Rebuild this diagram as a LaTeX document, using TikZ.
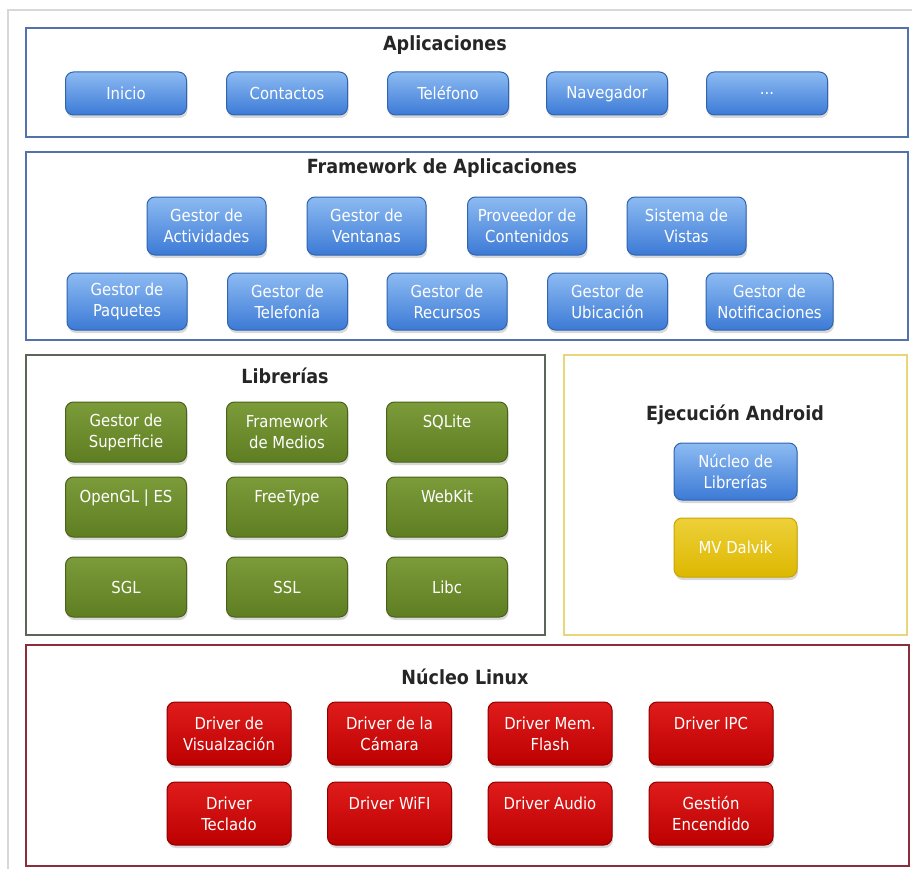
\documentclass[tikz,border=0pt]{standalone}
\usepackage{fontspec}
\newfontfamily\boxfont{DejaVu Sans Condensed}
\usetikzlibrary{shadows}

\definecolor{bluetop}{HTML}{8DBBF2}
\definecolor{bluebot}{HTML}{3C7AD6}
\definecolor{blueedge}{HTML}{2E64B0}
\definecolor{greentop}{HTML}{7C9B3A}
\definecolor{greenbot}{HTML}{5E7E22}
\definecolor{greenedge}{HTML}{4A6218}
\definecolor{yellowtop}{HTML}{EDD03A}
\definecolor{yellowbot}{HTML}{DDB800}
\definecolor{yellowedge}{HTML}{C9A500}
\definecolor{redtop}{HTML}{E01C1C}
\definecolor{redbot}{HTML}{BC0000}
\definecolor{rededge}{HTML}{8E0000}
\definecolor{appsedge}{HTML}{5272AC}
\definecolor{libsedge}{HTML}{5C6658}
\definecolor{runedge}{HTML}{EAD67A}
\definecolor{linuxedge}{HTML}{8C2D3C}
\definecolor{framegrey}{HTML}{D8D8D8}

\begin{document}
\begin{tikzpicture}[x=1pt, y=-1pt,
    panel/.style={line width=2pt, fill=white},
    heading/.style={font=\boxfont\bfseries\fontsize{19.5}{22}\selectfont, text=black!85},
    box/.style={rounded corners=8pt, draw, line width=1pt, text=white, align=center,
      inner sep=2pt, font=\boxfont\fontsize{16.5}{21}\selectfont,
      drop shadow={opacity=0.3, shadow xshift=1pt, shadow yshift=-3pt}},
    bluebox/.style={box, draw=blueedge, top color=bluetop, bottom color=bluebot},
    greenbox/.style={box, draw=greenedge, top color=greentop, bottom color=greenbot,
      minimum width=121pt, minimum height=60pt},
    redbox/.style={box, draw=rededge, top color=redtop, bottom color=redbot,
      minimum width=124pt, minimum height=63pt},
    yellowbox/.style={box, draw=yellowedge, top color=yellowtop, bottom color=yellowbot}]
  \useasboundingbox (0,0) rectangle (912,869);
  \draw [framegrey, line width=2pt] (8,869) -- (8,10) -- (912,10);

  % panels
  \draw [panel, draw=appsedge] (26,28) rectangle (908,137);
  \draw [panel, draw=appsedge] (26,152) rectangle (908,340);
  \draw [panel, draw=libsedge] (26,355) rectangle (545,635);
  \draw [panel, draw=runedge] (564,355) rectangle (907,635);
  \draw [panel, draw=linuxedge, line width=2.5pt] (26,645) rectangle (909,866);

  % Aplicaciones
  \node [heading] (tapps) at (445,45) {Aplicaciones};
  \node [bluebox, minimum width=121pt, minimum height=43pt] (inicio) at (126,93.5) {Inicio};
  \node [bluebox, minimum width=121pt, minimum height=43pt] (contactos) at (287,93.5) {Contactos};
  \node [bluebox, minimum width=121pt, minimum height=43pt] (telefono) at (448,93.5) {Teléfono};
  \node [bluebox, minimum width=121pt, minimum height=43pt] (navegador) at (607,93.5) {Navegador};
  \node [bluebox, minimum width=121pt, minimum height=43pt] (otras) at (767,93.5) {...};

  % Framework de Aplicaciones
  \node [heading] (tframe) at (442,168) {Framework de Aplicaciones};
  \node [bluebox, minimum width=119pt, minimum height=58pt] (gact) at (206.5,226) {Gestor de\\Actividades};
  \node [bluebox, minimum width=119pt, minimum height=58pt] (gvent) at (366.5,226) {Gestor de\\Ventanas};
  \node [bluebox, minimum width=119pt, minimum height=58pt] (provc) at (527,226) {Proveedor de\\Contenidos};
  \node [bluebox, minimum width=119pt, minimum height=58pt] (sisv) at (686.5,226) {Sistema de\\Vistas};
  \node [bluebox, minimum width=120pt, minimum height=57pt] (gpaq) at (127,301.5) {Gestor de\\Paquetes};
  \node [bluebox, minimum width=120pt, minimum height=57pt] (gtel) at (287.5,301.5) {Gestor de\\Telefonía};
  \node [bluebox, minimum width=120pt, minimum height=57pt] (grec) at (447,301.5) {Gestor de\\Recursos};
  \node [bluebox, minimum width=120pt, minimum height=57pt] (gubi) at (607.5,301.5) {Gestor de\\Ubicación};
  \node [bluebox, minimum width=127pt, minimum height=57pt] (gnot) at (769.5,301.5) {Gestor de\\Notificaciones};

  % Librerias
  \node [heading] (tlibs) at (285,376) {Librerías};
  \node [greenbox] (gsup) at (126,432) {Gestor de\\Superficie};
  \node [greenbox] (fmed) at (287,432) {Framework\\de Medios};
  \node [greenbox] (sqlite) at (447,432) {SQLite\\\mbox{}};
  \node [greenbox] (opengl) at (126,507) {OpenGL | ES\\\mbox{}};
  \node [greenbox] (freetype) at (287,507) {FreeType\\\mbox{}};
  \node [greenbox] (webkit) at (447,507) {WebKit\\\mbox{}};
  \node [greenbox] (sgl) at (126,587) {SGL};
  \node [greenbox] (ssl) at (287,587) {SSL};
  \node [greenbox] (libc) at (447,587) {Libc};

  % Ejecucion Android
  \node [heading] (truntime) at (735,415) {Ejecución Android};
  \node [bluebox, minimum width=123pt, minimum height=57pt] (nucleolib) at (735.5,471.5) {Núcleo de\\Librerías};
  \node [yellowbox, minimum width=123pt, minimum height=59pt] (dalvik) at (735.5,547.5) {MV Dalvik};

  % Nucleo Linux
  \node [heading] (tlinux) at (465,677) {Núcleo Linux};
  \node [redbox] (dvis) at (229,733.5) {Driver de\\Visualzación};
  \node [redbox] (dcam) at (389.5,733.5) {Driver de la\\Cámara};
  \node [redbox] (dflash) at (550,733.5) {Driver Mem.\\Flash};
  \node [redbox] (dipc) at (711,733.5) {Driver IPC\\\mbox{}};
  \node [redbox] (dtec) at (229,813.5) {Driver\\Teclado};
  \node [redbox] (dwifi) at (389.5,813.5) {Driver WiFI\\\mbox{}};
  \node [redbox] (daudio) at (550,813.5) {Driver Audio\\\mbox{}};
  \node [redbox] (genc) at (711,813.5) {Gestión\\Encendido};
\end{tikzpicture}
\end{document}
